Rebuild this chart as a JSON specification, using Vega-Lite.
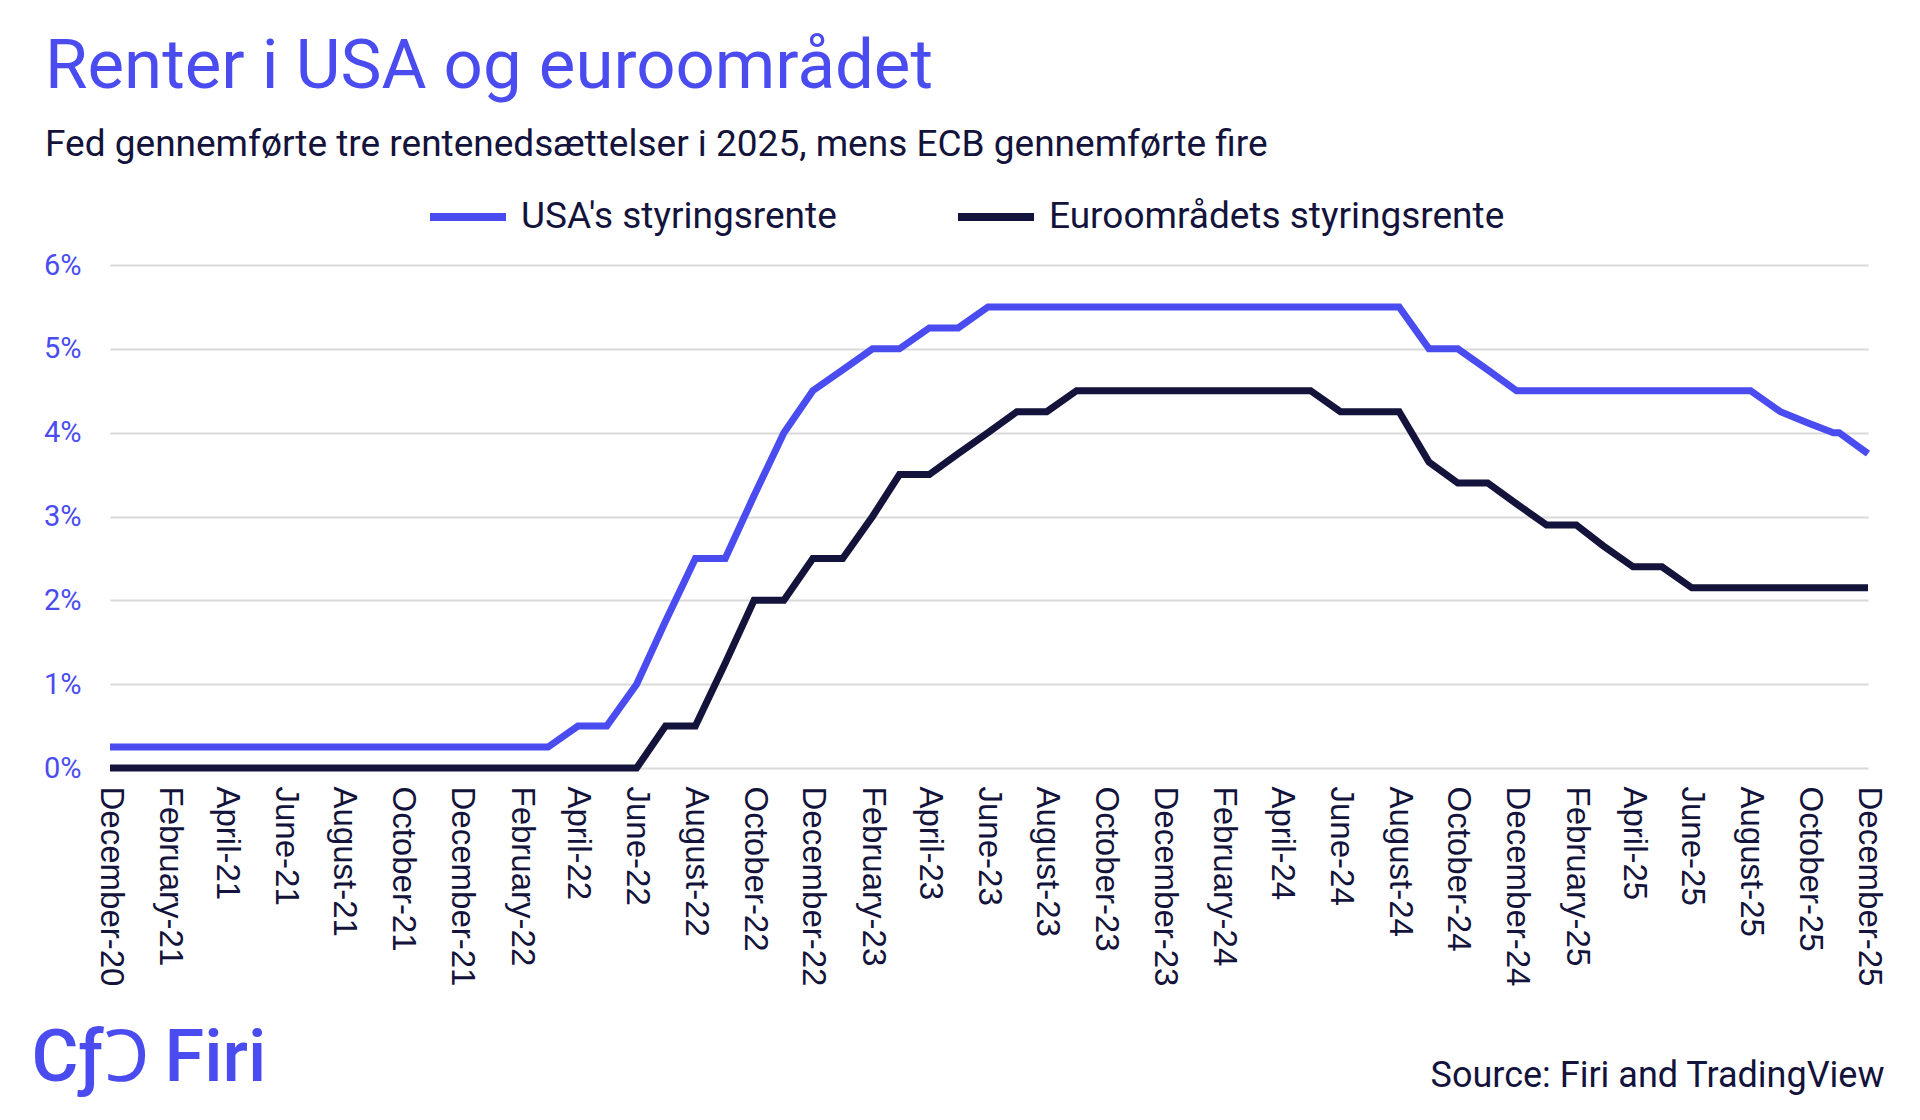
{
  "$schema": "https://vega.github.io/schema/vega-lite/v6.json",
  "autosize": {"type": "none"},
  "width": 1758,
  "height": 503,
  "padding": {"left": 110, "top": 265, "right": 52, "bottom": 352},
  "background": "white",
  "title": {
    "text": "Renter i USA og euroområdet",
    "subtitle": "Fed gennemførte tre rentenedsættelser i 2025, mens ECB gennemførte fire",
    "anchor": "start",
    "frame": "group",
    "dx": -65,
    "offset": 12,
    "font": "Roboto",
    "fontSize": 69,
    "fontWeight": "normal",
    "color": "#4a4cf0",
    "subtitleFont": "Roboto",
    "subtitleFontSize": 37,
    "subtitleColor": "#13133b",
    "subtitlePadding": 25
  },
  "datasets": {
    "rates": [
      {"date": "2020-12-01T00:00", "s": "USA's styringsrente", "v": 0.25},
      {"date": "2021-01-01T00:00", "s": "USA's styringsrente", "v": 0.25},
      {"date": "2021-02-01T00:00", "s": "USA's styringsrente", "v": 0.25},
      {"date": "2021-03-01T00:00", "s": "USA's styringsrente", "v": 0.25},
      {"date": "2021-04-01T00:00", "s": "USA's styringsrente", "v": 0.25},
      {"date": "2021-05-01T00:00", "s": "USA's styringsrente", "v": 0.25},
      {"date": "2021-06-01T00:00", "s": "USA's styringsrente", "v": 0.25},
      {"date": "2021-07-01T00:00", "s": "USA's styringsrente", "v": 0.25},
      {"date": "2021-08-01T00:00", "s": "USA's styringsrente", "v": 0.25},
      {"date": "2021-09-01T00:00", "s": "USA's styringsrente", "v": 0.25},
      {"date": "2021-10-01T00:00", "s": "USA's styringsrente", "v": 0.25},
      {"date": "2021-11-01T00:00", "s": "USA's styringsrente", "v": 0.25},
      {"date": "2021-12-01T00:00", "s": "USA's styringsrente", "v": 0.25},
      {"date": "2022-01-01T00:00", "s": "USA's styringsrente", "v": 0.25},
      {"date": "2022-02-01T00:00", "s": "USA's styringsrente", "v": 0.25},
      {"date": "2022-03-01T00:00", "s": "USA's styringsrente", "v": 0.25},
      {"date": "2022-04-01T00:00", "s": "USA's styringsrente", "v": 0.5},
      {"date": "2022-05-01T00:00", "s": "USA's styringsrente", "v": 0.5},
      {"date": "2022-06-01T00:00", "s": "USA's styringsrente", "v": 1.0},
      {"date": "2022-07-01T00:00", "s": "USA's styringsrente", "v": 1.75},
      {"date": "2022-08-01T00:00", "s": "USA's styringsrente", "v": 2.5},
      {"date": "2022-09-01T00:00", "s": "USA's styringsrente", "v": 2.5},
      {"date": "2022-10-01T00:00", "s": "USA's styringsrente", "v": 3.25},
      {"date": "2022-11-01T00:00", "s": "USA's styringsrente", "v": 4.0},
      {"date": "2022-12-01T00:00", "s": "USA's styringsrente", "v": 4.5},
      {"date": "2023-01-01T00:00", "s": "USA's styringsrente", "v": 4.75},
      {"date": "2023-02-01T00:00", "s": "USA's styringsrente", "v": 5.0},
      {"date": "2023-03-01T00:00", "s": "USA's styringsrente", "v": 5.0},
      {"date": "2023-04-01T00:00", "s": "USA's styringsrente", "v": 5.25},
      {"date": "2023-05-01T00:00", "s": "USA's styringsrente", "v": 5.25},
      {"date": "2023-06-01T00:00", "s": "USA's styringsrente", "v": 5.5},
      {"date": "2023-07-01T00:00", "s": "USA's styringsrente", "v": 5.5},
      {"date": "2023-08-01T00:00", "s": "USA's styringsrente", "v": 5.5},
      {"date": "2023-09-01T00:00", "s": "USA's styringsrente", "v": 5.5},
      {"date": "2023-10-01T00:00", "s": "USA's styringsrente", "v": 5.5},
      {"date": "2023-11-01T00:00", "s": "USA's styringsrente", "v": 5.5},
      {"date": "2023-12-01T00:00", "s": "USA's styringsrente", "v": 5.5},
      {"date": "2024-01-01T00:00", "s": "USA's styringsrente", "v": 5.5},
      {"date": "2024-02-01T00:00", "s": "USA's styringsrente", "v": 5.5},
      {"date": "2024-03-01T00:00", "s": "USA's styringsrente", "v": 5.5},
      {"date": "2024-04-01T00:00", "s": "USA's styringsrente", "v": 5.5},
      {"date": "2024-05-01T00:00", "s": "USA's styringsrente", "v": 5.5},
      {"date": "2024-06-01T00:00", "s": "USA's styringsrente", "v": 5.5},
      {"date": "2024-07-01T00:00", "s": "USA's styringsrente", "v": 5.5},
      {"date": "2024-08-01T00:00", "s": "USA's styringsrente", "v": 5.5},
      {"date": "2024-09-01T00:00", "s": "USA's styringsrente", "v": 5.0},
      {"date": "2024-10-01T00:00", "s": "USA's styringsrente", "v": 5.0},
      {"date": "2024-11-01T00:00", "s": "USA's styringsrente", "v": 4.75},
      {"date": "2024-12-01T00:00", "s": "USA's styringsrente", "v": 4.5},
      {"date": "2025-01-01T00:00", "s": "USA's styringsrente", "v": 4.5},
      {"date": "2025-02-01T00:00", "s": "USA's styringsrente", "v": 4.5},
      {"date": "2025-03-01T00:00", "s": "USA's styringsrente", "v": 4.5},
      {"date": "2025-04-01T00:00", "s": "USA's styringsrente", "v": 4.5},
      {"date": "2025-05-01T00:00", "s": "USA's styringsrente", "v": 4.5},
      {"date": "2025-06-01T00:00", "s": "USA's styringsrente", "v": 4.5},
      {"date": "2025-07-01T00:00", "s": "USA's styringsrente", "v": 4.5},
      {"date": "2025-08-01T00:00", "s": "USA's styringsrente", "v": 4.5},
      {"date": "2025-09-01T00:00", "s": "USA's styringsrente", "v": 4.25},
      {"date": "2025-10-01T00:00", "s": "USA's styringsrente", "v": 4.11},
      {"date": "2025-10-26T00:00", "s": "USA's styringsrente", "v": 4.0},
      {"date": "2025-11-01T00:00", "s": "USA's styringsrente", "v": 4.0},
      {"date": "2025-12-01T00:00", "s": "USA's styringsrente", "v": 3.75},
      {"date": "2020-12-01T00:00", "s": "Euroområdets styringsrente", "v": 0},
      {"date": "2021-01-01T00:00", "s": "Euroområdets styringsrente", "v": 0},
      {"date": "2021-02-01T00:00", "s": "Euroområdets styringsrente", "v": 0},
      {"date": "2021-03-01T00:00", "s": "Euroområdets styringsrente", "v": 0},
      {"date": "2021-04-01T00:00", "s": "Euroområdets styringsrente", "v": 0},
      {"date": "2021-05-01T00:00", "s": "Euroområdets styringsrente", "v": 0},
      {"date": "2021-06-01T00:00", "s": "Euroområdets styringsrente", "v": 0},
      {"date": "2021-07-01T00:00", "s": "Euroområdets styringsrente", "v": 0},
      {"date": "2021-08-01T00:00", "s": "Euroområdets styringsrente", "v": 0},
      {"date": "2021-09-01T00:00", "s": "Euroområdets styringsrente", "v": 0},
      {"date": "2021-10-01T00:00", "s": "Euroområdets styringsrente", "v": 0},
      {"date": "2021-11-01T00:00", "s": "Euroområdets styringsrente", "v": 0},
      {"date": "2021-12-01T00:00", "s": "Euroområdets styringsrente", "v": 0},
      {"date": "2022-01-01T00:00", "s": "Euroområdets styringsrente", "v": 0},
      {"date": "2022-02-01T00:00", "s": "Euroområdets styringsrente", "v": 0},
      {"date": "2022-03-01T00:00", "s": "Euroområdets styringsrente", "v": 0},
      {"date": "2022-04-01T00:00", "s": "Euroområdets styringsrente", "v": 0},
      {"date": "2022-05-01T00:00", "s": "Euroområdets styringsrente", "v": 0},
      {"date": "2022-06-01T00:00", "s": "Euroområdets styringsrente", "v": 0},
      {"date": "2022-07-01T00:00", "s": "Euroområdets styringsrente", "v": 0.5},
      {"date": "2022-08-01T00:00", "s": "Euroområdets styringsrente", "v": 0.5},
      {"date": "2022-09-01T00:00", "s": "Euroområdets styringsrente", "v": 1.25},
      {"date": "2022-10-01T00:00", "s": "Euroområdets styringsrente", "v": 2.0},
      {"date": "2022-11-01T00:00", "s": "Euroområdets styringsrente", "v": 2.0},
      {"date": "2022-12-01T00:00", "s": "Euroområdets styringsrente", "v": 2.5},
      {"date": "2023-01-01T00:00", "s": "Euroområdets styringsrente", "v": 2.5},
      {"date": "2023-02-01T00:00", "s": "Euroområdets styringsrente", "v": 3.0},
      {"date": "2023-03-01T00:00", "s": "Euroområdets styringsrente", "v": 3.5},
      {"date": "2023-04-01T00:00", "s": "Euroområdets styringsrente", "v": 3.5},
      {"date": "2023-05-01T00:00", "s": "Euroområdets styringsrente", "v": 3.75},
      {"date": "2023-06-01T00:00", "s": "Euroområdets styringsrente", "v": 4.0},
      {"date": "2023-07-01T00:00", "s": "Euroområdets styringsrente", "v": 4.25},
      {"date": "2023-08-01T00:00", "s": "Euroområdets styringsrente", "v": 4.25},
      {"date": "2023-09-01T00:00", "s": "Euroområdets styringsrente", "v": 4.5},
      {"date": "2023-10-01T00:00", "s": "Euroområdets styringsrente", "v": 4.5},
      {"date": "2023-11-01T00:00", "s": "Euroområdets styringsrente", "v": 4.5},
      {"date": "2023-12-01T00:00", "s": "Euroområdets styringsrente", "v": 4.5},
      {"date": "2024-01-01T00:00", "s": "Euroområdets styringsrente", "v": 4.5},
      {"date": "2024-02-01T00:00", "s": "Euroområdets styringsrente", "v": 4.5},
      {"date": "2024-03-01T00:00", "s": "Euroområdets styringsrente", "v": 4.5},
      {"date": "2024-04-01T00:00", "s": "Euroområdets styringsrente", "v": 4.5},
      {"date": "2024-05-01T00:00", "s": "Euroområdets styringsrente", "v": 4.5},
      {"date": "2024-06-01T00:00", "s": "Euroområdets styringsrente", "v": 4.25},
      {"date": "2024-07-01T00:00", "s": "Euroområdets styringsrente", "v": 4.25},
      {"date": "2024-08-01T00:00", "s": "Euroområdets styringsrente", "v": 4.25},
      {"date": "2024-09-01T00:00", "s": "Euroområdets styringsrente", "v": 3.65},
      {"date": "2024-10-01T00:00", "s": "Euroområdets styringsrente", "v": 3.4},
      {"date": "2024-11-01T00:00", "s": "Euroområdets styringsrente", "v": 3.4},
      {"date": "2024-12-01T00:00", "s": "Euroområdets styringsrente", "v": 3.15},
      {"date": "2025-01-01T00:00", "s": "Euroområdets styringsrente", "v": 2.9},
      {"date": "2025-02-01T00:00", "s": "Euroområdets styringsrente", "v": 2.9},
      {"date": "2025-03-01T00:00", "s": "Euroområdets styringsrente", "v": 2.65},
      {"date": "2025-04-01T00:00", "s": "Euroområdets styringsrente", "v": 2.4},
      {"date": "2025-05-01T00:00", "s": "Euroområdets styringsrente", "v": 2.4},
      {"date": "2025-06-01T00:00", "s": "Euroområdets styringsrente", "v": 2.15},
      {"date": "2025-07-01T00:00", "s": "Euroområdets styringsrente", "v": 2.15},
      {"date": "2025-08-01T00:00", "s": "Euroområdets styringsrente", "v": 2.15},
      {"date": "2025-09-01T00:00", "s": "Euroområdets styringsrente", "v": 2.15},
      {"date": "2025-10-01T00:00", "s": "Euroområdets styringsrente", "v": 2.15},
      {"date": "2025-11-01T00:00", "s": "Euroområdets styringsrente", "v": 2.15},
      {"date": "2025-12-01T00:00", "s": "Euroområdets styringsrente", "v": 2.15}
    ]
  },
  "data": {"name": "rates"},
  "mark": {"type": "line", "strokeWidth": 7, "strokeJoin": "miter"},
  "encoding": {
    "x": {
      "field": "date",
      "type": "temporal",
      "scale": {"domain": [{"year": 2020, "month": 12, "date": 1}, {"year": 2025, "month": 12, "date": 1}]},
      "axis": {
        "values": [
          {"year": 2020, "month": 12, "date": 1},
          {"year": 2021, "month": 2, "date": 1}, {"year": 2021, "month": 4, "date": 1}, {"year": 2021, "month": 6, "date": 1},
          {"year": 2021, "month": 8, "date": 1}, {"year": 2021, "month": 10, "date": 1}, {"year": 2021, "month": 12, "date": 1},
          {"year": 2022, "month": 2, "date": 1}, {"year": 2022, "month": 4, "date": 1}, {"year": 2022, "month": 6, "date": 1},
          {"year": 2022, "month": 8, "date": 1}, {"year": 2022, "month": 10, "date": 1}, {"year": 2022, "month": 12, "date": 1},
          {"year": 2023, "month": 2, "date": 1}, {"year": 2023, "month": 4, "date": 1}, {"year": 2023, "month": 6, "date": 1},
          {"year": 2023, "month": 8, "date": 1}, {"year": 2023, "month": 10, "date": 1}, {"year": 2023, "month": 12, "date": 1},
          {"year": 2024, "month": 2, "date": 1}, {"year": 2024, "month": 4, "date": 1}, {"year": 2024, "month": 6, "date": 1},
          {"year": 2024, "month": 8, "date": 1}, {"year": 2024, "month": 10, "date": 1}, {"year": 2024, "month": 12, "date": 1},
          {"year": 2025, "month": 2, "date": 1}, {"year": 2025, "month": 4, "date": 1}, {"year": 2025, "month": 6, "date": 1},
          {"year": 2025, "month": 8, "date": 1}, {"year": 2025, "month": 10, "date": 1}, {"year": 2025, "month": 12, "date": 1}
        ],
        "format": "%B-%y",
        "labelAngle": 90,
        "labelFlush": false,
        "labelOverlap": false,
        "labelBound": false,
        "labelLimit": 0,
        "labelFont": "Liberation Sans",
        "labelFontSize": 33,
        "labelColor": "#13133b",
        "labelPadding": 18,
        "ticks": false,
        "domain": false,
        "grid": false,
        "title": "Source: Firi and TradingView",
        "titleX": 1774,
        "titleY": 318,
        "titleAlign": "right",
        "titleAnchor": "end",
        "titleBaseline": "alphabetic",
        "titleFont": "Roboto",
        "titleFontSize": 36,
        "titleFontWeight": "normal",
        "titleColor": "#13133b",
        "titleLimit": 0
      }
    },
    "y": {
      "field": "v",
      "type": "quantitative",
      "scale": {"domain": [0, 6]},
      "axis": {
        "values": [0, 1, 2, 3, 4, 5, 6],
        "labelExpr": "datum.value + '%'",
        "labelFont": "Roboto",
        "labelFontSize": 29,
        "labelColor": "#4a4cf0",
        "labelPadding": 29,
        "ticks": false,
        "domain": false,
        "grid": true,
        "gridColor": "#d9d9d9",
        "gridWidth": 2,
        "title": "CƒↃ\u2009Firi",
        "titleX": -79,
        "titleY": 815,
        "titleAngle": 0,
        "titleAlign": "left",
        "titleAnchor": "start",
        "titleBaseline": "alphabetic",
        "titleFont": "Roboto",
        "titleFontSize": 72,
        "titleFontWeight": 500,
        "titleColor": "#4a4cf0",
        "titleLimit": 0
      }
    },
    "color": {
      "field": "s",
      "type": "nominal",
      "scale": {"domain": ["USA's styringsrente", "Euroområdets styringsrente"], "range": ["#4a4cf0", "#13133b"]},
      "legend": {
        "title": null,
        "orient": "none",
        "legendX": 316,
        "legendY": -90,
        "direction": "horizontal",
        "symbolType": "stroke",
        "symbolSize": 5776,
        "symbolStrokeWidth": 8,
        "labelFont": "Roboto",
        "labelFontSize": 37,
        "labelColor": "#13133b",
        "labelOffset": 11,
        "labelLimit": 0,
        "columnPadding": 105,
        "padding": 0
      }
    }
  },
  "config": {"view": {"stroke": null}}
}
